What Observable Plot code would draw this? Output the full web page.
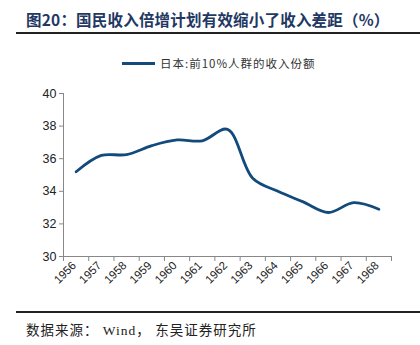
<!DOCTYPE html>
<html><head><meta charset="utf-8">
<script src="https://cdn.jsdelivr.net/npm/d3@7"></script>
<script src="https://cdn.jsdelivr.net/npm/@observablehq/plot@0.6"></script>
<style>
body{margin:0;background:#fff;}
#wrap{position:relative;width:420px;height:345px;overflow:hidden;background:#fff;}
#title{position:absolute;left:26px;top:8px;font-family:"Noto Sans CJK SC",sans-serif;font-weight:700;font-size:15.5px;color:#1f3864;white-space:nowrap;letter-spacing:0.2px;}
.rule{position:absolute;left:16px;width:404px;height:2px;background:#222;}
#legend{position:absolute;left:122px;top:55px;font-family:"Noto Sans CJK SC",sans-serif;font-size:11.5px;letter-spacing:1px;color:#333;display:flex;align-items:center;white-space:nowrap;}
#legend .sw{width:33px;height:3px;background:#124a7c;margin-right:5px;}
#chart{position:absolute;left:0;top:75px;}
#caption{position:absolute;left:26px;top:319px;font-family:"Liberation Serif","Noto Sans CJK SC",serif;font-size:13.5px;letter-spacing:1px;color:#222;white-space:pre;}
</style></head>
<body>
<div id="wrap">
<div id="title">图20：国民收入倍增计划有效缩小了收入差距（%）</div>
<div class="rule" style="top:32px"></div>
<div id="legend"><div class="sw"></div><span>日本:前10%人群的收入份额</span></div>
<div id="chart"></div>
<div class="rule" style="top:311px"></div>
<div id="caption">数据来源： Wind， 东吴证券研究所</div>
</div>
<script>
const years = [1956,1957,1958,1959,1960,1961,1962,1963,1964,1965,1966,1967,1968];
const share = [35.2,36.2,36.25,36.8,37.15,37.1,37.8,34.8,34.0,33.35,32.7,33.3,32.9];
const yTicks = [30,32,34,36,38,40];
const data = years.map((y,i)=>({year:y, value:share[i]}));
const boundaries = years.map(y=>y-0.5).concat([years[years.length-1]+0.5]);
const plot = Plot.plot({
  width:420, height:232,
  marginTop:18, marginBottom:51, marginLeft:63, marginRight:29,
  style:{fontFamily:"Liberation Sans, Arial, sans-serif", fontSize:"12px", color:"#222", background:"transparent"},
  x:{domain:[years[0]-0.5, years[years.length-1]+0.5]},
  y:{domain:[30,40]},
  marks:[
    Plot.ruleX([years[0]-0.5],{stroke:"#888"}),
    Plot.ruleY([30],{stroke:"#888"}),
    Plot.axisY({ticks:yTicks, tickSize:4, tickPadding:3, stroke:"#888", label:null, fontSize:12.5, tickFormat:d=>String(d)}),
    Plot.axisX({ticks:boundaries, tickSize:5, tickFormat:()=> "", stroke:"#888", label:null}),
    Plot.axisX({ticks:years, tickSize:0, tickPadding:7, tickRotate:-45, tickFormat:d=>String(d), label:null, fontSize:11.5, dx:-2}),
    Plot.line(data,{x:"year", y:"value", curve:"catmull-rom", stroke:"#124a7c", strokeWidth:2.8})
  ]
});
document.getElementById("chart").appendChild(plot);
</script>
</body></html>
